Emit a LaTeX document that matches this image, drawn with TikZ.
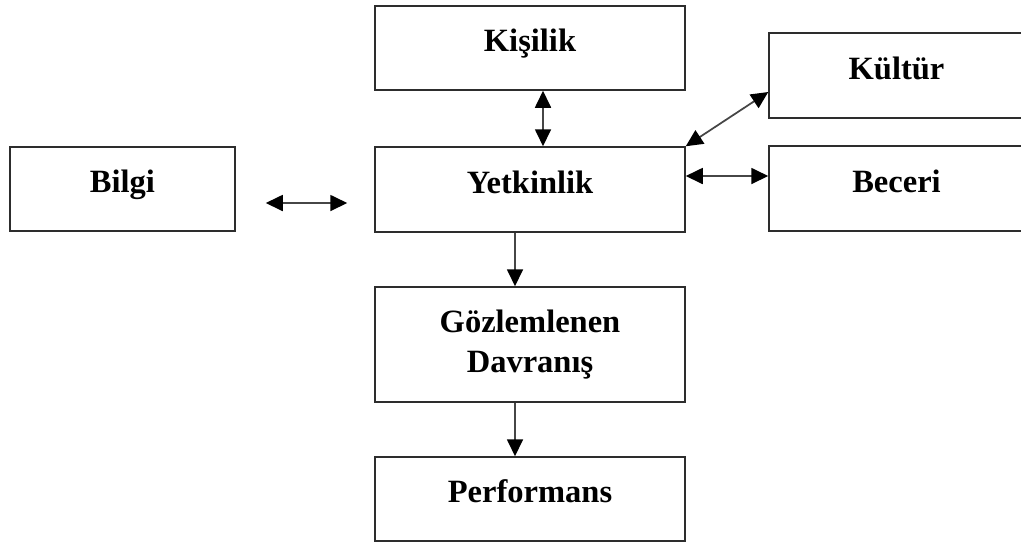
\documentclass[tikz,border=0pt]{standalone}
\usepackage{fontspec}
\setmainfont{Liberation Serif}
\usetikzlibrary{arrows.meta, positioning, calc}
\definecolor{boxline}{RGB}{45,45,45}
\definecolor{arrowgray}{RGB}{70,70,70}

\begin{document}
\begin{tikzpicture}[
    box/.style={draw=boxline, line width=0.03cm, fill=white,
                minimum width=6.2cm, minimum height=1.68cm, inner sep=0pt,
                text height=0.5cm, text depth=0.36cm,
                font=\fontsize{18.5}{22.7}\selectfont\bfseries},
    sidebox/.style={box, minimum width=5.1cm},
    tallbox/.style={box, minimum height=2.3cm, text height=, text depth=, align=center},
    arr/.style={-{Triangle[length=0.34cm, width=0.32cm, color=black]}, line width=0.035cm, draw=arrowgray},
    biarr/.style={{Triangle[length=0.34cm, width=0.32cm, color=black]}-{Triangle[length=0.34cm, width=0.32cm, color=black]},
                  line width=0.035cm, draw=arrowgray}
  ]
    \clip (0,0) rectangle (20.42,-10.84);

    \node[box] (kisilik) at (10.6,-0.96) {Kişilik};
    \node[box, minimum height=1.7cm] (yetkinlik) at (10.6,-3.79) {Yetkinlik};
    \node[box, minimum width=4.5cm] (bilgi) at (2.45,-3.78) {Bilgi};
    \node[sidebox, minimum height=1.7cm] (kultur) at (17.93,-1.51) {Kültür};
    \node[sidebox, minimum height=1.7cm] (beceri) at (17.93,-3.77) {Beceri};
    \node[tallbox] (davranis) at (10.6,-6.89) {Gözlemlenen\\Davranış};
    \node[box] (performans) at (10.6,-9.98) {Performans};

    % arrows
    \draw[biarr, shorten <=0.6cm, shorten >=0.54cm]
        ([yshift=-0.28cm]bilgi.east) -- ([yshift=-0.28cm]bilgi.east -| yetkinlik.west);
    \draw[biarr] ([xshift=0.26cm]kisilik.south) -- ([xshift=0.26cm]yetkinlik.north);
    \draw[biarr] (yetkinlik.north east) -- ([yshift=-0.33cm]kultur.west);
    \draw[biarr] ([yshift=0.27cm]yetkinlik.east) -- ([yshift=0.27cm]yetkinlik.east -| beceri.west);
    \draw[arr] ([xshift=-0.3cm]yetkinlik.south) -- ([xshift=-0.3cm]davranis.north);
    \draw[arr] ([xshift=-0.3cm]davranis.south) -- ([xshift=-0.3cm]performans.north);
  \end{tikzpicture}
\end{document}
